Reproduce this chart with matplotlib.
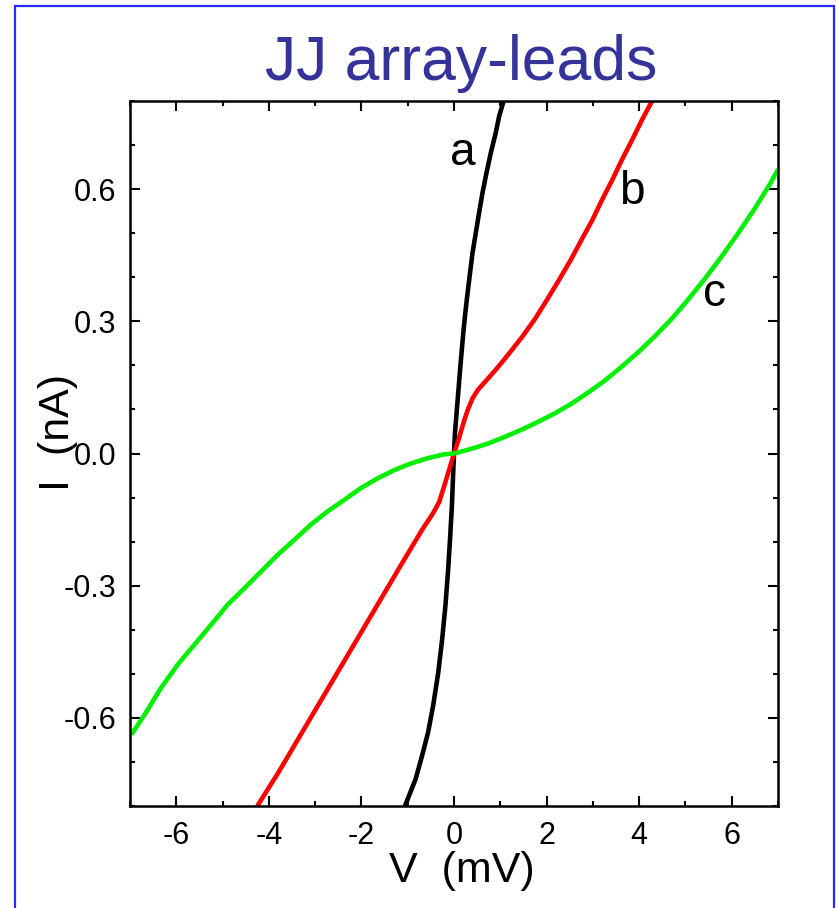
import matplotlib
matplotlib.use("Agg")
import matplotlib.pyplot as plt
from matplotlib.patches import Rectangle
from matplotlib.ticker import MultipleLocator, FormatStrFormatter

plt.rcParams['font.family'] = ['Liberation Sans', 'DejaVu Sans']

# I-V curves, V in mV, I in nA
v_a = [-1.06, -0.83, -0.69, -0.56, -0.45, -0.34, -0.255, -0.185, -0.13, -0.085, -0.045, -0.02, 0.0,
       0.02, 0.055, 0.09, 0.125, 0.162, 0.20, 0.243, 0.293, 0.345, 0.40, 0.47, 0.54, 0.615,
       0.70, 0.795, 0.90, 0.975, 1.08]
i_a = [-0.80, -0.739, -0.686, -0.633, -0.572, -0.497, -0.421, -0.345, -0.269, -0.193, -0.118, -0.05, 0.0,
       0.045, 0.091, 0.136, 0.182, 0.227, 0.273, 0.318, 0.364, 0.409, 0.455, 0.50, 0.545, 0.591,
       0.636, 0.682, 0.727, 0.765, 0.803]

v_b = [-4.25, -3.80, -3.35, -2.90, -2.45, -2.00, -1.55, -1.10, -0.70, -0.45, -0.32, -0.20, -0.10, 0.0,
       0.10, 0.20, 0.30, 0.40, 0.52, 0.70, 0.95, 1.19, 1.475, 1.76, 2.01, 2.27, 2.52, 2.755,
       2.99, 3.20, 3.42, 3.63, 3.85, 4.065, 4.28]
i_b = [-0.80, -0.725, -0.645, -0.565, -0.485, -0.405, -0.325, -0.245, -0.175, -0.135, -0.11, -0.07, -0.035, 0.0,
       0.032, 0.068, 0.100, 0.125, 0.145, 0.166, 0.196, 0.227, 0.265, 0.307, 0.349, 0.394, 0.439, 0.485,
       0.53, 0.576, 0.621, 0.667, 0.712, 0.758, 0.80]

v_c = [-6.97, -6.68, -6.33, -5.97, -5.61, -5.25, -4.89, -4.53, -4.17, -3.81, -3.45, -3.10, -2.74,
       -2.38, -2.02, -1.66, -1.30, -0.94, -0.58, -0.22, 0.0,
       0.36, 0.72, 1.08, 1.44, 1.80, 2.16, 2.52, 2.88, 3.24, 3.60, 3.96, 4.32, 4.68, 5.04,
       5.40, 5.76, 6.12, 6.48, 6.84, 7.0]
i_c = [-0.638, -0.592, -0.532, -0.479, -0.434, -0.389, -0.343, -0.306, -0.268, -0.230, -0.196, -0.162, -0.132,
       -0.106, -0.079, -0.057, -0.038, -0.023, -0.011, -0.002, 0.0,
       0.010, 0.022, 0.037, 0.053, 0.071, 0.090, 0.112, 0.137, 0.164, 0.195, 0.228, 0.264, 0.303, 0.347,
       0.394, 0.444, 0.497, 0.553, 0.614, 0.645]

curve_names = ['a', 'b', 'c']
name_pos = [(0.19, 0.655), (3.83, 0.566), (5.63, 0.334)]

W, H = 837, 908
fig = plt.figure(figsize=(W / 100, H / 100), dpi=100)

# blue frame, open at the bottom edge of the image
fig.patches.append(Rectangle((15 / W, -0.1), 819 / W, 1.1 - 6 / H, transform=fig.transFigure,
                             fill=False, edgecolor='#2a2aff', linewidth=1.6, clip_on=False))

fig.text(461 / W, 1 - 80 / H, 'JJ array-leads', color='#333399', fontsize=45,
         ha='center', va='baseline')

ax = fig.add_axes([130 / W, 1 - 806 / H, 648 / W, 705 / H])

ax.plot(v_a, i_a, color='black', lw=3.3, solid_capstyle='butt')
ax.plot(v_b, i_b, color='#ff0000', lw=3.3, solid_capstyle='butt')
ax.plot(v_c, i_c, color='#00f000', lw=3.3, solid_capstyle='butt')

for name, (x, y) in zip(curve_names, name_pos):
    ax.text(x, y, name, fontsize=33, ha='center', va='baseline')

ax.set_xlim(-7, 7)
ax.set_ylim(-0.8, 0.8)
ax.xaxis.set_major_locator(MultipleLocator(2))
ax.xaxis.set_minor_locator(MultipleLocator(1))
ax.yaxis.set_major_locator(MultipleLocator(0.3))
ax.yaxis.set_minor_locator(MultipleLocator(0.1))
ax.yaxis.set_major_formatter(FormatStrFormatter('%.1f'))
ax.xaxis.set_major_formatter(FormatStrFormatter('%d'))

ax.tick_params(which='both', direction='in', top=True, right=True, width=1.5)
ax.tick_params(which='major', length=7, labelsize=22)
ax.tick_params(which='minor', length=3.5)
ax.tick_params(axis='x', which='major', pad=11)
ax.tick_params(axis='y', which='major', pad=10)
for sp in ax.spines.values():
    sp.set_linewidth(1.8)

ax.set_xlabel('V  (mV)', fontsize=31)
ax.set_ylabel('I  (nA)', fontsize=31)
ax.xaxis.set_label_coords(0.512, -0.064)
ax.yaxis.set_label_coords(-0.08, 0.53)

fig.savefig('out.png', dpi=100)
